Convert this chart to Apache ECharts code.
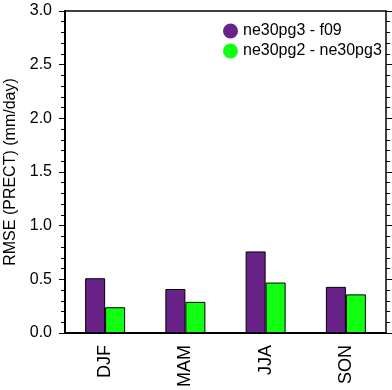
<!DOCTYPE html>
<html>
<head>
<meta charset="utf-8">
<script src="https://cdn.jsdelivr.net/npm/echarts@6/dist/echarts.min.js"></script>
<style>
  html, body { margin: 0; padding: 0; background: #fff; }
  #chart { width: 392px; height: 390px; }
</style>
</head>
<body>
<div id="chart"></div>
<script>
// data
const seasons = ['DJF', 'MAM', 'JJA', 'SON'];
const pg3VsF09 = [0.51, 0.41, 0.76, 0.43];
const pg2VsPg3 = [0.24, 0.29, 0.47, 0.36];
const seriesNames = ['ne30pg3 - f09', 'ne30pg2 - ne30pg3'];
const seriesColors = ['#682288', '#11ff11'];

let chartDom = document.getElementById('chart');
let myChart = echarts.init(chartDom);

const font = 'Liberation Sans, Arial, Helvetica, sans-serif';

let option = {
    animation: false,
    textStyle: { fontFamily: font, color: '#000' },
    grid: { left: 65, top: 11, right: 6, bottom: 57, containLabel: false, outerBoundsMode: 'none' },
    legend: {
        data: seriesNames,
        orient: 'vertical',
        left: 218,
        top: 18,
        icon: 'circle',
        itemWidth: 15,
        itemHeight: 15,
        itemGap: 4,
        itemStyle: { borderWidth: 0 },
        textStyle: { fontSize: 16, color: '#000', fontFamily: font }
    },
    xAxis: [{
        type: 'category',
        data: seasons,
        position: 'bottom',
        axisLine: { lineStyle: { color: '#000', width: 2 } },
        axisTick: { alignWithLabel: true, inside: false, length: 5, lineStyle: { color: '#000' } },
        axisLabel: { rotate: 90, margin: 12, fontSize: 18, color: '#000', fontFamily: font }
    }, {
        type: 'category',
        data: seasons,
        position: 'top',
        axisLine: { onZero: false, lineStyle: { color: '#000', width: 1.5 } },
        axisTick: { alignWithLabel: true, inside: false, length: 6, lineStyle: { color: '#000' } },
        axisLabel: { show: false }
    }],
    yAxis: [{
        type: 'value',
        min: 0,
        max: 3,
        interval: 0.5,
        name: 'RMSE (PRECT) (mm/day)',
        nameLocation: 'middle',
        nameRotate: 90,
        nameGap: 39,
        nameTextStyle: { fontSize: 16, color: '#000', fontFamily: font },
        axisLine: { show: true, lineStyle: { color: '#000', width: 2 } },
        axisTick: { show: true, inside: false, length: 6, lineStyle: { color: '#000' } },
        minorTick: { show: true, splitNumber: 5, length: 4, lineStyle: { color: '#000' } },
        splitLine: { show: false },
        axisLabel: {
            margin: 13, fontSize: 16, color: '#000', fontFamily: font,
            formatter: v => v.toFixed(1)
        }
    }, {
        type: 'value',
        min: 0,
        max: 3,
        interval: 0.5,
        position: 'right',
        axisLine: { show: true, onZero: false, lineStyle: { color: '#000', width: 1.5 } },
        axisTick: { show: true, inside: false, length: 6, lineStyle: { color: '#000' } },
        minorTick: { show: true, splitNumber: 5, length: 4, lineStyle: { color: '#000' } },
        splitLine: { show: false },
        axisLabel: { show: false }
    }],
    series: [{
        name: seriesNames[0],
        type: 'bar',
        data: pg3VsF09,
        barWidth: 20,
        barGap: '0%',
        itemStyle: { color: seriesColors[0], borderColor: '#000', borderWidth: 1 }
    }, {
        name: seriesNames[1],
        type: 'bar',
        data: pg2VsPg3,
        barWidth: 20,
        barGap: '0%',
        itemStyle: { color: seriesColors[1], borderColor: '#000', borderWidth: 1 }
    }]
};
option && myChart.setOption(option);
</script>
</body>
</html>
